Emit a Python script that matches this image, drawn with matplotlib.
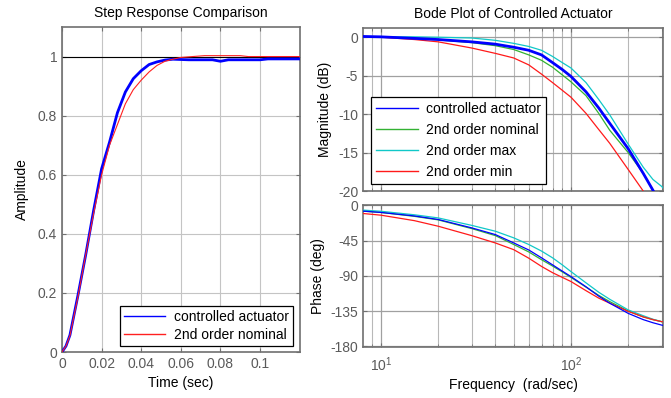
import matplotlib
matplotlib.use("Agg")
import matplotlib.pyplot as plt
import numpy as np
from matplotlib.ticker import LogLocator, NullFormatter

plt.rcParams['font.family'] = ['Liberation Sans', 'DejaVu Sans']
plt.rcParams['mathtext.fontset'] = 'custom'
plt.rcParams['mathtext.rm'] = 'Liberation Sans'
plt.rcParams['mathtext.it'] = 'Liberation Sans'
plt.rcParams['mathtext.default'] = 'regular'

# ---- Step response data ----
t_act = [0, 0.002, 0.004, 0.008, 0.012, 0.016, 0.020, 0.024, 0.028, 0.032, 0.036,
         0.040, 0.044, 0.048, 0.052, 0.056, 0.060, 0.064, 0.070, 0.076, 0.080,
         0.084, 0.090, 0.100, 0.104, 0.110, 0.120]
y_act = [0, 0.02, 0.057, 0.19, 0.33, 0.48, 0.62, 0.71, 0.81, 0.88, 0.925,
         0.952, 0.973, 0.982, 0.988, 0.991, 0.990, 0.989, 0.989, 0.989, 0.984,
         0.989, 0.989, 0.989, 0.992, 0.992, 0.992]
t_nom = [0, 0.002, 0.004, 0.008, 0.012, 0.016, 0.020, 0.024, 0.028, 0.032, 0.036,
         0.040, 0.044, 0.048, 0.052, 0.056, 0.060, 0.066, 0.072, 0.080, 0.090,
         0.094, 0.100, 0.120]
y_nom = [0, 0.02, 0.055, 0.185, 0.33, 0.47, 0.60, 0.70, 0.77, 0.84, 0.888,
         0.92, 0.948, 0.97, 0.984, 0.991, 0.997, 1.0, 1.003, 1.003, 1.003,
         1.0, 1.0, 1.0]

# ---- Bode data ----
freq = [8, 10, 15, 20, 30, 40, 50, 60, 70, 80, 90, 100, 120, 140, 160, 200, 240, 270, 300, 310]
mag_act = [0.1, 0.05, -0.15, -0.3, -0.6, -0.9, -1.3, -1.7, -2.3, -3.3, -4.2, -5.1,
           -7.1, -9.2, -11.2, -14.5, -17.7, -19.9, -22, -22.6]
mag_nom = [0.1, 0.05, -0.15, -0.35, -0.7, -1.1, -1.6, -2.3, -3.0, -3.9, -4.9, -5.8,
           -7.6, -9.9, -12.1, -15.0, -17.7, -19.9, -22, -22.6]
mag_max = [0.05, 0.05, 0.05, 0.0, -0.1, -0.4, -0.8, -1.2, -1.7, -2.5, -3.3, -4.0,
           -5.9, -8.1, -10.1, -13.9, -16.9, -18.5, -19.4, -19.8]
mag_min = [0.1, 0.0, -0.3, -0.6, -1.4, -2.1, -2.7, -3.6, -4.8, -5.9, -6.9, -7.8,
           -9.9, -12.0, -13.8, -17.2, -20.0, -22.5, -24.5, -25]
ph_act = [-7.3, -9, -13.5, -18, -28.7, -37.3, -48, -57, -67, -76, -84, -91,
          -104, -116, -125, -138, -146, -150, -153, -153.8]
ph_nom = [-7.3, -9, -14, -18.5, -29.6, -38.6, -50, -59.5, -69.4, -77.5, -85, -92,
          -104.5, -115, -123, -135, -142.5, -146, -148.6, -149.3]
ph_max = [-6, -7.5, -12, -16, -25.5, -33, -41.5, -50, -58.4, -67, -76, -84.6,
          -99, -111, -120, -133.6, -141, -145.5, -148.6, -149.4]
ph_min = [-10.3, -12.5, -19.5, -26.6, -38.6, -48, -56.6, -67.5, -78, -86, -92, -97.3,
          -109, -118.5, -125, -135.4, -142.5, -146, -148.6, -149.3]

FRAME = '#707070'
TICKLBL = '#5a5a5a'
FS = 10

fig = plt.figure(figsize=(6.71, 3.98), dpi=100)

def style(ax):
    for s in ax.spines.values():
        s.set_color(FRAME)
        s.set_linewidth(1.2)
    ax.tick_params(which='both', direction='in', top=True, right=True,
                   color=FRAME, labelcolor=TICKLBL, labelsize=FS)
    ax.tick_params(which='major', length=3, width=0.8)
    ax.tick_params(which='minor', length=2, width=0.6)

# Step response
ax1 = fig.add_axes([62/671, 1-352/398, 238/671, 325/398])
ax1.set_axisbelow(True)
ax1.grid(True, color='#c4c4c4', linewidth=0.8)
ax1.axhline(1.0, color='black', linewidth=0.8, zorder=1)
ax1.plot(t_act, y_act, color='#0000ff', linewidth=2.0, label='controlled actuator', zorder=3)
ax1.plot(t_nom, y_nom, color='#ff2020', linewidth=0.8, label='2nd order nominal', zorder=4)
ax1.set_xlim(0, 0.1202)
ax1.set_ylim(0, 1.1)
ax1.set_xticks([0, 0.02, 0.04, 0.06, 0.08, 0.1])
ax1.set_xticklabels(['0', '0.02', '0.04', '0.06', '0.08', '0.1'])
ax1.set_yticks([0, 0.2, 0.4, 0.6, 0.8, 1.0])
ax1.set_yticklabels(['0', '0.2', '0.4', '0.6', '0.8', '1'])
style(ax1)
ax1.set_title('Step Response Comparison', fontsize=FS, pad=7)
ax1.set_xlabel('Time (sec)', fontsize=FS, labelpad=4)
ax1.set_ylabel('Amplitude', fontsize=FS, labelpad=6)
leg1 = ax1.legend(loc='lower right', bbox_to_anchor=(0.97, 0.018), borderaxespad=0,
                  fontsize=FS, fancybox=False, framealpha=1, edgecolor='black',
                  handlelength=3.0, borderpad=0.3, labelspacing=0.3, handletextpad=0.6)
leg1.get_frame().set_linewidth(0.9)
for lh in leg1.get_lines():
    lh.set_linewidth(1.0)

# Bode
ax2 = fig.add_axes([363/671, 1-191/398, 300/671, 163/398])
ax3 = fig.add_axes([363/671, 1-347/398, 300/671, 142/398], sharex=ax2)
for ax in (ax2, ax3):
    ax.set_xscale('log')
    ax.set_axisbelow(True)
    ax.grid(True, which='major', color='#a0a0a0', linewidth=0.9)
    ax.grid(True, which='minor', axis='x', color='#b8b8b8', linewidth=0.8)
    ax.xaxis.set_minor_locator(LogLocator(base=10, subs=np.arange(2, 10)))
    ax.xaxis.set_minor_formatter(NullFormatter())
    style(ax)

ax2.plot(freq, mag_nom, color='#33b233', linewidth=0.9, label='2nd order nominal', zorder=3)
ax2.plot(freq, mag_max, color='#10c8c8', linewidth=0.9, label='2nd order max', zorder=3)
ax2.plot(freq, mag_min, color='#ff1a1a', linewidth=0.9, label='2nd order min', zorder=3)
ax2.plot(freq, mag_act, color='#0000ff', linewidth=2.0, label='controlled actuator', zorder=4)
ax2.set_xlim(8.05, 305)
ax2.set_ylim(-20, 1.2)
ax2.set_yticks([0, -5, -10, -15, -20])
ax2.set_yticklabels(['0', '-5', '-10', '-15', '-20'])
ax2.tick_params(labelbottom=False)
ax2.set_title('Bode Plot of Controlled Actuator', fontsize=FS, pad=7)
ax2.set_ylabel('Magnitude (dB)', fontsize=FS, labelpad=4)
h, l = ax2.get_legend_handles_labels()
order = [3, 0, 1, 2]
leg2 = ax2.legend([h[i] for i in order], [l[i] for i in order], loc='lower left',
                  bbox_to_anchor=(0.027, 0.043), borderaxespad=0, fontsize=FS,
                  fancybox=False, framealpha=1, edgecolor='black',
                  handlelength=3.0, borderpad=0.35, labelspacing=0.5, handletextpad=0.6)
leg2.get_frame().set_linewidth(0.9)
for lh in leg2.get_lines():
    lh.set_linewidth(1.0)

ax3.plot(freq, ph_nom, color='#33b233', linewidth=0.9, zorder=3)
ax3.plot(freq, ph_max, color='#10c8c8', linewidth=0.9, zorder=3)
ax3.plot(freq, ph_min, color='#ff1a1a', linewidth=0.9, zorder=3)
ax3.plot(freq, ph_act, color='#0000ff', linewidth=0.9, zorder=4)
ax3.set_ylim(-181, 0.5)
ax3.set_yticks([0, -45, -90, -135, -180])
ax3.set_yticklabels(['0', '-45', '-90', '-135', '-180'])
ax3.tick_params(axis='x', pad=6)
ax3.set_ylabel('Phase (deg)', fontsize=FS, labelpad=4)
ax3.set_xlabel('Frequency  (rad/sec)', fontsize=FS, labelpad=3)

fig.savefig('out.png', dpi=100)
